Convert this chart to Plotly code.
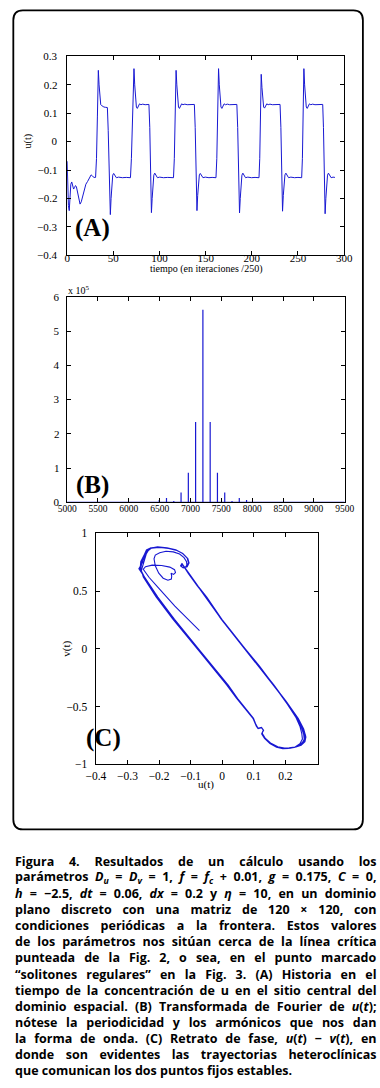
import plotly.graph_objects as go

W, H = 380, 1088
BLUE = "#1818d2"

# ---------------- Panel A: u(t) time series ----------------
t_init = [0, 0.6, 1.4, 2.3, 3.1, 4.0, 5.0, 6.0, 7.0, 8.0, 9.0, 10.0, 11.3, 12.6, 14.0, 15.3, 16.8, 18.5, 20.3, 22.2, 24.2, 26.0, 27.6, 29.2]
u_init = [-0.069, -0.15, -0.225, -0.243, -0.19, -0.150, -0.142, -0.155, -0.167, -0.162, -0.155, -0.158, -0.175, -0.200, -0.220, -0.212, -0.190, -0.168, -0.150, -0.140, -0.128, -0.117, -0.122, -0.126]

t_c1 = [30.8, 31.8, 32.8, 33.8, 34.6, 35.4, 36.4, 37.4, 38.6, 39.8, 41.3, 43.6, 44.5, 45.4, 46.8, 47.6, 48.4, 49.4, 50.4, 51.8, 53.3, 55.8, 59.8, 64.0, 67.4]
u_c1 = [-0.126, -0.06, 0.09, 0.251, 0.20, 0.15, 0.13, 0.127, 0.124, 0.122, 0.121, 0.120, 0.04, -0.13, -0.257, -0.20, -0.15, -0.118, -0.112, -0.120, -0.127, -0.125, -0.127, -0.126, -0.127]

t_c2 = [68.6, 69.6, 70.8, 72.4, 73.2, 74.0, 75.0, 76.0, 77.2, 78.4, 79.9, 81.9, 84.5, 87.0, 88.6, 89.5, 90.3, 91.3, 92.1, 92.9, 93.9, 94.9, 96.3, 97.8, 100.3, 104.3, 109.0, 113.5]
u_c2 = [-0.127, -0.06, 0.09, 0.257, 0.20, 0.15, 0.122, 0.117, 0.127, 0.133, 0.130, 0.132, 0.130, 0.132, 0.131, 0.05, -0.13, -0.250, -0.20, -0.15, -0.118, -0.111, -0.121, -0.127, -0.125, -0.127, -0.126, -0.127]

t_c3 = [115.2, 116.1, 117.0, 118.0, 118.8, 119.6, 120.6, 121.6, 122.8, 124.0, 125.5, 127.5, 130.0, 133.0, 135.5, 137.8, 138.7, 139.5, 140.6, 141.4, 142.2, 143.2, 144.2, 145.6, 147.1, 149.6, 153.6, 157.0, 160.2]
u_c3 = [-0.127, -0.06, 0.09, 0.251, 0.20, 0.15, 0.122, 0.117, 0.127, 0.133, 0.130, 0.132, 0.130, 0.131, 0.132, 0.131, 0.05, -0.13, -0.243, -0.19, -0.145, -0.117, -0.112, -0.121, -0.127, -0.125, -0.127, -0.126, -0.127]

t_c4 = [161.2, 162.1, 163.0, 164.0, 164.8, 165.6, 166.6, 167.6, 168.8, 170.0, 171.5, 173.5, 176.0, 179.0, 181.5, 183.8, 184.7, 185.6, 186.7, 187.5, 188.3, 189.3, 190.3, 191.7, 193.2, 195.7, 199.7, 203.5, 206.8]
u_c4 = [-0.127, -0.06, 0.09, 0.257, 0.20, 0.15, 0.122, 0.117, 0.127, 0.133, 0.130, 0.132, 0.130, 0.131, 0.132, 0.131, 0.05, -0.13, -0.251, -0.20, -0.15, -0.118, -0.111, -0.121, -0.127, -0.125, -0.127, -0.126, -0.127]

t_c5 = [207.8, 208.6, 209.4, 210.2, 211.0, 211.8, 212.8, 213.8, 215.0, 216.2, 217.7, 219.7, 222.2, 225.2, 228.0, 230.6, 231.5, 232.3, 233.3, 234.1, 234.9, 235.9, 236.9, 238.3, 239.8, 242.3, 246.3, 250.0, 253.0]
u_c5 = [-0.127, -0.06, 0.09, 0.237, 0.19, 0.145, 0.122, 0.118, 0.127, 0.133, 0.130, 0.132, 0.130, 0.131, 0.132, 0.131, 0.05, -0.13, -0.245, -0.19, -0.145, -0.117, -0.111, -0.121, -0.127, -0.125, -0.127, -0.126, -0.127]

t_c6 = [254.0, 254.8, 255.6, 256.4, 257.2, 258.0, 259.0, 260.0, 261.2, 262.4, 263.9, 265.9, 268.4, 271.4, 274.2, 276.8, 277.6, 278.4, 279.4, 280.2, 281.0, 282.0, 283.0, 284.4, 285.9, 288.0, 290.0]
u_c6 = [-0.127, -0.06, 0.09, 0.257, 0.20, 0.15, 0.122, 0.117, 0.127, 0.133, 0.130, 0.132, 0.130, 0.131, 0.132, 0.131, 0.05, -0.13, -0.254, -0.20, -0.15, -0.118, -0.111, -0.121, -0.127, -0.125, -0.126]

# ---------------- Panel B: Fourier spectrum ----------------
freq_B = [6375, 6493, 6611, 6729, 6847, 6965, 7083, 7201, 7319, 7437, 7555, 7673, 7791, 7909, 8027]
amp_B = [2000, 7000, 13000, 4000, 29000, 86500, 235000, 562000, 235000, 86500, 29000, 4000, 13000, 7000, 2000]
xrange_B = [5000, 9500]

# ---------------- Panel C: phase portrait u(t) - v(t) ----------------
uC_tr = [-0.072, -0.110, -0.150, -0.202, -0.232, -0.250, -0.243, -0.222, -0.192, -0.166, -0.151, -0.148, -0.154, -0.162, -0.160, -0.161, -0.172, -0.187, -0.201, -0.212, -0.216, -0.212, -0.198, -0.178, -0.155, -0.135, -0.121, -0.113, -0.112]
vC_tr = [0.157, 0.262, 0.370, 0.529, 0.620, 0.690, 0.712, 0.725, 0.722, 0.708, 0.686, 0.660, 0.645, 0.655, 0.630, 0.605, 0.594, 0.612, 0.655, 0.720, 0.780, 0.812, 0.832, 0.845, 0.840, 0.822, 0.790, 0.755, 0.725]

uC_1 = [-0.118, -0.105, -0.077, -0.050, -0.002, 0.058, 0.118, 0.163, 0.200, 0.238, 0.255, 0.264, 0.263, 0.252, 0.236, 0.214, 0.195, 0.174, 0.152, 0.135, 0.126, 0.130, 0.124, 0.113,
        0.109, 0.098, 0.048, 0.018, -0.067, -0.152, -0.205, -0.227, -0.245, -0.262, -0.255, -0.240, -0.232, -0.220, -0.200, -0.172, -0.145, -0.125, -0.110, -0.106, -0.112, -0.124, -0.131, -0.127]
vC_1 = [0.700, 0.650, 0.543, 0.450, 0.257, 0.050, -0.150, -0.314, -0.450, -0.600, -0.685, -0.750, -0.785, -0.820, -0.848, -0.860, -0.862, -0.850, -0.818, -0.775, -0.735, -0.705, -0.682, -0.690,
        -0.672, -0.600, -0.430, -0.314, -0.029, 0.257, 0.450, 0.543, 0.620, 0.690, 0.760, 0.830, 0.862, 0.878, 0.880, 0.872, 0.855, 0.825, 0.785, 0.745, 0.712, 0.703, 0.718, 0.735]

uC_2 = [-0.120, -0.107, -0.079, -0.052, -0.004, 0.056, 0.116, 0.161, 0.199, 0.236, 0.250, 0.258, 0.260, 0.248, 0.232, 0.210, 0.192, 0.172, 0.151, 0.134, 0.125, 0.131, 0.125, 0.114,
        0.110, 0.096, 0.045, 0.014, -0.071, -0.157, -0.210, -0.232, -0.250, -0.256, -0.250, -0.244, -0.238, -0.228, -0.205, -0.175, -0.147, -0.126, -0.111, -0.107, -0.113, -0.125, -0.132, -0.128]
vC_2 = [0.703, 0.652, 0.545, 0.452, 0.259, 0.052, -0.148, -0.312, -0.448, -0.598, -0.675, -0.740, -0.790, -0.828, -0.852, -0.864, -0.866, -0.853, -0.820, -0.777, -0.737, -0.706, -0.683, -0.691,
        -0.670, -0.598, -0.428, -0.312, -0.027, 0.259, 0.452, 0.545, 0.622, 0.680, 0.740, 0.800, 0.845, 0.872, 0.884, 0.876, 0.858, 0.827, 0.787, 0.746, 0.713, 0.704, 0.719, 0.737]

uC_3 = [-0.119, -0.106, -0.078, -0.051, -0.003, 0.057, 0.117, 0.162, 0.201, 0.240, 0.257, 0.262, 0.258, 0.246, 0.230, 0.212, 0.197, 0.176, 0.153, 0.136, 0.127, 0.130, 0.124, 0.113,
        0.108, 0.097, 0.047, 0.016, -0.069, -0.154, -0.208, -0.230, -0.247, -0.260, -0.258, -0.247, -0.236, -0.222, -0.198, -0.170, -0.144, -0.124, -0.109, -0.105, -0.111, -0.123, -0.130, -0.126]
vC_3 = [0.702, 0.651, 0.544, 0.451, 0.258, 0.051, -0.149, -0.313, -0.451, -0.602, -0.690, -0.760, -0.800, -0.832, -0.850, -0.858, -0.860, -0.848, -0.816, -0.774, -0.734, -0.704, -0.681, -0.689,
        -0.671, -0.599, -0.429, -0.313, -0.028, 0.258, 0.451, 0.544, 0.621, 0.692, 0.755, 0.815, 0.858, 0.874, 0.878, 0.870, 0.853, 0.823, 0.783, 0.744, 0.711, 0.702, 0.717, 0.734]

uC_4 = [-0.118, -0.104, -0.076, -0.049, -0.001, 0.059, 0.119, 0.164, 0.201, 0.239, 0.252, 0.259, 0.261, 0.254, 0.238, 0.216, 0.198, 0.176, 0.153, 0.135, 0.126, 0.130, 0.124, 0.113,
        0.109, 0.099, 0.049, 0.019, -0.066, -0.151, -0.204, -0.226, -0.244, -0.264, -0.252, -0.246, -0.240, -0.226, -0.202, -0.173, -0.146, -0.125, -0.110, -0.106, -0.112, -0.124, -0.131, -0.127]
vC_4 = [0.700, 0.649, 0.542, 0.449, 0.256, 0.049, -0.151, -0.315, -0.452, -0.603, -0.672, -0.730, -0.775, -0.815, -0.846, -0.862, -0.865, -0.851, -0.819, -0.776, -0.736, -0.705, -0.682, -0.690,
        -0.673, -0.601, -0.431, -0.315, -0.030, 0.256, 0.449, 0.542, 0.619, 0.695, 0.750, 0.820, 0.858, 0.876, 0.881, 0.873, 0.856, 0.826, 0.785, 0.745, 0.712, 0.703, 0.718, 0.735]

uC_5 = [-0.119, -0.106, -0.078, -0.051, -0.003, 0.057, 0.117, 0.162, 0.199, 0.234, 0.246, 0.252, 0.254, 0.246, 0.231, 0.211, 0.193, 0.173, 0.151, 0.134, 0.125, 0.130, 0.124, 0.113,
        0.109, 0.097, 0.046, 0.015, -0.070, -0.155, -0.207, -0.229, -0.246, -0.259, -0.254, -0.243, -0.234, -0.224, -0.201, -0.172, -0.145, -0.125, -0.110, -0.106, -0.112, -0.124, -0.131, -0.127]
vC_5 = [0.701, 0.651, 0.544, 0.451, 0.258, 0.051, -0.149, -0.313, -0.449, -0.597, -0.670, -0.735, -0.782, -0.822, -0.850, -0.861, -0.863, -0.851, -0.818, -0.775, -0.735, -0.705, -0.682, -0.690,
        -0.672, -0.600, -0.430, -0.314, -0.029, 0.257, 0.450, 0.543, 0.620, 0.688, 0.748, 0.812, 0.852, 0.873, 0.879, 0.871, 0.855, 0.825, 0.785, 0.745, 0.712, 0.703, 0.718, 0.735]

uC_6 = [-0.118, -0.105, -0.077, -0.050, -0.002, 0.058, 0.118, 0.163, 0.202, 0.241, 0.258, 0.265, 0.262, 0.250, 0.234, 0.213, 0.196, 0.175, 0.152, 0.135, 0.126, 0.130, 0.124, 0.113,
        0.109, 0.098, 0.048, 0.018, -0.067, -0.152, -0.205, -0.228, -0.246, -0.258, -0.256, -0.245, -0.234, -0.222, -0.199, -0.171, -0.145, -0.125, -0.110, -0.106, -0.112, -0.124, -0.130, -0.126]
vC_6 = [0.700, 0.650, 0.543, 0.450, 0.257, 0.050, -0.150, -0.314, -0.452, -0.605, -0.695, -0.765, -0.805, -0.835, -0.851, -0.859, -0.861, -0.849, -0.817, -0.775, -0.735, -0.705, -0.682, -0.690,
        -0.672, -0.600, -0.430, -0.314, -0.029, 0.257, 0.450, 0.543, 0.620, 0.686, 0.752, 0.818, 0.857, 0.875, 0.880, 0.872, 0.855, 0.825, 0.785, 0.745, 0.712, 0.703, 0.716, 0.730]

# ---------------- Tick labels ----------------
ticks_A_x = [0, 50, 100, 150, 200, 250, 300]
ticks_B_x = [5000, 5500, 6000, 6500, 7000, 7500, 8000, 8500, 9000, 9500]
ticks_B_y = [0, 100000, 200000, 300000, 400000, 500000, 600000]
ticktext_B_y = ["0", "1", "2", "3", "4", "5", "6"]
ticks_C_x = [-0.4, -0.3, -0.2, -0.1, 0, 0.1, 0.2]
ticks_C_y = [-1, -0.5, 0, 0.5, 1]

# ---------------- Caption ----------------
caption_lines = [
    "Figura 4. Resultados de un cálculo usando los",
    "parámetros <i>D<sub>u</sub></i> = <i>D<sub>v</sub></i> = 1, <i>f</i> = <i>f<sub>c</sub></i> + 0.01, <i>g</i> = 0.175, <i>C</i> = 0,",
    "<i>h</i> = −2.5, <i>dt</i> = 0.06, <i>dx</i> = 0.2 y <i>η</i> = 10, en un dominio",
    "plano discreto con una matriz de 120 × 120, con",
    "condiciones periódicas a la frontera. Estos valores",
    "de los parámetros nos sitúan cerca de la línea crítica",
    "punteada de la Fig. 2, o sea, en el punto marcado",
    "“solitones regulares” en la Fig. 3. (A) Historia en el",
    "tiempo de la concentración de u en el sitio central del",
    "dominio espacial. (B) Transformada de Fourier de <i>u</i>(<i>t</i>);",
    "nótese la periodicidad y los armónicos que nos dan",
    "la forma de onda. (C) Retrato de fase, <i>u</i>(<i>t</i>) − <i>v</i>(<i>t</i>), en",
    "donde son evidentes las trayectorias heteroclínicas",
    "que comunican los dos puntos fijos estables.",
]


def px(x):
    return x / W


def py(y):
    return 1 - y / H


fig = go.Figure()

tA = t_init + t_c1 + t_c2 + t_c3 + t_c4 + t_c5 + t_c6
uA = u_init + u_c1 + u_c2 + u_c3 + u_c4 + u_c5 + u_c6
fig.add_trace(go.Scatter(x=tA, y=uA, mode="lines", line=dict(color=BLUE, width=1),
                         xaxis="x", yaxis="y", showlegend=False, hoverinfo="skip"))

xB = [xrange_B[0]]
yB = [0]
for f, a in zip(freq_B, amp_B):
    xB += [f, f, f]
    yB += [0, a, 0]
xB.append(xrange_B[1])
yB.append(0)
fig.add_trace(go.Scatter(x=xB, y=yB, mode="lines", line=dict(color=BLUE, width=1.2),
                         xaxis="x2", yaxis="y2", showlegend=False, hoverinfo="skip"))

uC = uC_tr + uC_1 + uC_2 + uC_3 + uC_4 + uC_5 + uC_6
vC = vC_tr + vC_1 + vC_2 + vC_3 + vC_4 + vC_5 + vC_6
fig.add_trace(go.Scatter(x=uC, y=vC, mode="lines", line=dict(color=BLUE, width=1.1),
                         xaxis="x3", yaxis="y3", showlegend=False, hoverinfo="skip"))

axcommon = dict(showline=True, linecolor="black", linewidth=1, mirror="ticks",
                ticks="inside", ticklen=4, tickcolor="black", tickwidth=1,
                showgrid=False, zeroline=False, fixedrange=True)
serif = "Liberation Serif"

fig.update_layout(
    width=W, height=H, autosize=False,
    margin=dict(l=0, r=0, t=0, b=0, pad=0),
    paper_bgcolor="white", plot_bgcolor="white",
    font=dict(family=serif, color="black", size=11),
    xaxis=dict(domain=[px(60.3), px(352.7)], range=[0, 300], tickvals=ticks_A_x,
               anchor="y", tickfont=dict(size=11), **axcommon),
    yaxis=dict(domain=[py(252), py(51)], range=[-0.4, 0.3], dtick=0.1, tick0=0,
               anchor="x", tickfont=dict(size=11), **axcommon),
    xaxis2=dict(domain=[px(60.3), px(353.3)], range=xrange_B, tickvals=ticks_B_x,
                anchor="y2", tickfont=dict(size=9.5), **axcommon),
    yaxis2=dict(domain=[py(502), py(294)], range=[0, 600000], tickvals=ticks_B_y,
                ticktext=ticktext_B_y, anchor="x2", tickfont=dict(size=11), **axcommon),
    xaxis3=dict(domain=[px(90.7), px(325)], range=[-0.4, 0.303], tickvals=ticks_C_x,
                anchor="y3", tickfont=dict(size=11.5), **axcommon),
    yaxis3=dict(domain=[py(766.7), py(533.3)], range=[-1, 1], tickvals=ticks_C_y,
                anchor="x3", tickfont=dict(size=11.5), **axcommon),
)

ann = []


def add_text(text, x, y, size, xanchor="center", yanchor="middle", angle=0, family=serif, align="center"):
    ann.append(dict(text=text, x=px(x), y=py(y), xref="paper", yref="paper",
                    xanchor=xanchor, yanchor=yanchor, showarrow=False, textangle=angle,
                    align=align, font=dict(family=family, size=size, color="black")))


add_text("u(t)", 20, 137, 10, angle=-90)
add_text("tiempo (en iteraciones /250)", 207, 266, 10)
add_text("x 10<sup>5</sup>", 59, 287, 10, xanchor="left")
add_text("v(t)", 60, 650, 11, angle=-90)
add_text("u(t)", 207, 787, 11)
add_text("<b>(A)</b>", 87.5, 224, 25)
add_text("<b>(B)</b>", 87.5, 484, 25)
add_text("<b>(C)</b>", 99, 740, 25)

cap_start = len(ann)
for i, line in enumerate(caption_lines):
    add_text("<b>" + line + "</b>", 3.5, 865 + 16.26 * i, 12.5, xanchor="left",
             family="Open Sans", align="left")
cap_idx = list(range(cap_start, cap_start + len(caption_lines) - 1))

fig.update_layout(annotations=ann)

# rounded frame around the three panels
L, R, T, B, r = 3.5, 372.5, 4.5, 832.5, 10


def P(x, y):
    return "%.5f,%.5f" % (px(x), py(y))


path = ("M " + P(L + r, T) + " L " + P(R - r, T) + " Q " + P(R, T) + " " + P(R, T + r) +
        " L " + P(R, B - r) + " Q " + P(R, B) + " " + P(R - r, B) +
        " L " + P(L + r, B) + " Q " + P(L, B) + " " + P(L, B - r) +
        " L " + P(L, T + r) + " Q " + P(L, T) + " " + P(L + r, T) + " Z")
fig.add_shape(type="path", path=path, xref="paper", yref="paper",
              line=dict(color="black", width=1.8), fillcolor="rgba(0,0,0,0)")

js = """
document.body.style.margin = '0';
document.body.style.overflow = 'hidden';
var gd = document.getElementById('{plot_id}');
var gr = gd.getBoundingClientRect();
function shiftYLabels(cls, targetRight) {
  gd.querySelectorAll('g.' + cls + ' text').forEach(function(t){
    var rc = t.getBoundingClientRect();
    var dx = targetRight - (rc.right - gr.left);
    t.setAttribute('x', (parseFloat(t.getAttribute('x')) || 0) + dx);
  });
}
function shiftXLabels(cls, targetMid) {
  gd.querySelectorAll('g.' + cls + ' text').forEach(function(t){
    var rc = t.getBoundingClientRect();
    var dy = targetMid - ((rc.top + rc.bottom) / 2 - gr.top);
    t.setAttribute('y', (parseFloat(t.getAttribute('y')) || 0) + dy);
  });
}
shiftYLabels('ytick', 57.5);
shiftYLabels('y2tick', 59.5);
shiftYLabels('y3tick', 87.5);
shiftXLabels('xtick', 257.5);
shiftXLabels('x2tick', 509);
shiftXLabels('x3tick', 776);
var idx = IDX;
var rightEdge = 376.5;
idx.forEach(function(i){
  var g = gd.querySelector('g.annotation[data-index="' + i + '"]');
  if (!g) return;
  var t = g.querySelector('text.annotation-text');
  if (!t) return;
  var txt = t.textContent;
  var n = (txt.match(/ /g) || []).length;
  if (n === 0) return;
  var rc = t.getBoundingClientRect();
  var extra = rightEdge - (rc.right - gr.left);
  if (extra < 0) {
    t.style.letterSpacing = (extra / txt.length) + 'px';
  } else {
    t.style.wordSpacing = (extra / n) + 'px';
  }
  for (var k = 0; k < 2; k++) {
    rc = t.getBoundingClientRect();
    extra = rightEdge - (rc.right - gr.left);
    var cur = parseFloat(t.style.wordSpacing) || 0;
    t.style.wordSpacing = (cur + extra / n) + 'px';
  }
});
""".replace("IDX", str(cap_idx))

fig.write_html("out.html", post_script=js, config={"displayModeBar": False, "staticPlot": True})
